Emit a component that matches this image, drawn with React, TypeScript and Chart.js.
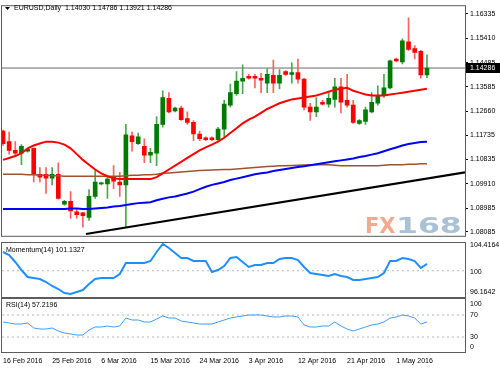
import React, { useEffect, useRef } from 'react';
import { Chart, registerables } from 'chart.js';

Chart.register(...registerables);

const FONT = '"Liberation Sans", Arial, sans-serif';

// ---- data ----
const dateLabels = ['16 Feb 2016', '25 Feb 2016', '6 Mar 2016', '15 Mar 2016', '24 Mar 2016', '3 Apr 2016', '12 Apr 2016', '21 Apr 2016', '1 May 2016'];
const dateTickIndex = [0, 8, 16, 24, 32, 40, 48, 56, 64];

const openPrices = [
  1.11901, 1.11501, 1.11174, 1.11065, 1.11138, 1.11247, 1.10266, 1.10266, 1.10120, 1.10266,
  1.09139, 1.09248, 1.08849, 1.08812, 1.08631, 1.09430, 1.09902, 1.09902, 1.10157, 1.09975,
  1.09866, 1.11719, 1.11429, 1.11320, 1.10993, 1.11065, 1.12156, 1.13137, 1.12664, 1.12773,
  1.12374, 1.12228, 1.11792, 1.11647, 1.11647, 1.11574, 1.11974, 1.12882, 1.13318, 1.13791,
  1.13973, 1.13973, 1.13900, 1.13718, 1.14009, 1.13718, 1.14154, 1.14045, 1.14118, 1.13864,
  1.12810, 1.12628, 1.12991, 1.12919, 1.13100, 1.13573, 1.13064, 1.12882, 1.12192, 1.12265,
  1.12628, 1.12955, 1.13246, 1.13536, 1.14627, 1.14518, 1.15281, 1.15026, 1.14917, 1.14030,
];
const highPrices = [
  1.11938, 1.11865, 1.11501, 1.11392, 1.11247, 1.11260, 1.10520, 1.10520, 1.10520, 1.10702,
  1.09285, 1.09612, 1.08958, 1.08830, 1.09684, 1.10411, 1.09975, 1.10157, 1.10593, 1.10338,
  1.12156, 1.11865, 1.11828, 1.11610, 1.11247, 1.12446, 1.13427, 1.13355, 1.12810, 1.12846,
  1.12628, 1.12301, 1.11901, 1.11683, 1.11683, 1.12047, 1.13064, 1.13682, 1.14154, 1.14409,
  1.14045, 1.14045, 1.14082, 1.14263, 1.14590, 1.14227, 1.14191, 1.14481, 1.14627, 1.13900,
  1.12955, 1.13173, 1.13064, 1.13355, 1.13900, 1.13900, 1.14045, 1.13064, 1.12337, 1.12810,
  1.13355, 1.13609, 1.14045, 1.14590, 1.14663, 1.15390, 1.16189, 1.15135, 1.14954, 1.14786,
];
const lowPrices = [
  1.11356, 1.11029, 1.10993, 1.10629, 1.11102, 1.09975, 1.09975, 1.09539, 1.09866, 1.09321,
  1.09103, 1.08594, 1.08594, 1.08267, 1.08522, 1.09357, 1.09866, 1.09357, 1.09721, 1.09430,
  1.08267, 1.11138, 1.11392, 1.10702, 1.10702, 1.10593, 1.12047, 1.12592, 1.12628, 1.12301,
  1.12156, 1.11538, 1.11538, 1.11538, 1.11538, 1.11538, 1.11683, 1.12810, 1.13246, 1.13318,
  1.13864, 1.13536, 1.13355, 1.13355, 1.13355, 1.13500, 1.14009, 1.13718, 1.13718, 1.12701,
  1.12301, 1.12446, 1.12882, 1.12810, 1.12810, 1.12592, 1.12810, 1.12192, 1.12156, 1.12156,
  1.12592, 1.12882, 1.13173, 1.13500, 1.14518, 1.14445, 1.14954, 1.14627, 1.13900, 1.13921,
];
const closePrices = [
  1.11429, 1.11174, 1.11065, 1.11320, 1.11211, 1.10266, 1.10157, 1.10120, 1.10266, 1.09357,
  1.09248, 1.08885, 1.08740, 1.08703, 1.09430, 1.09975, 1.09939, 1.10084, 1.10011, 1.09866,
  1.11756, 1.11501, 1.11683, 1.10993, 1.11102, 1.12156, 1.13173, 1.12628, 1.12773, 1.12337,
  1.12228, 1.11792, 1.11610, 1.11574, 1.11574, 1.11974, 1.12919, 1.13355, 1.13791, 1.13900,
  1.13900, 1.13900, 1.13827, 1.14045, 1.13718, 1.14009, 1.14045, 1.14118, 1.13864, 1.12810,
  1.12628, 1.12810, 1.12919, 1.13137, 1.13573, 1.12991, 1.12882, 1.12228, 1.12301, 1.12701,
  1.12991, 1.13246, 1.13536, 1.14554, 1.14554, 1.15317, 1.14990, 1.14881, 1.14030, 1.14286,
];

const maRed = [
  1.10811, 1.10884, 1.10956, 1.11065, 1.11247, 1.11356, 1.11429, 1.11501, 1.11501, 1.11465,
  1.11392, 1.11247, 1.11029, 1.10811, 1.10629, 1.10448, 1.10302, 1.10193, 1.10120, 1.10084,
  1.10084, 1.10084, 1.10084, 1.10084, 1.10084, 1.10157, 1.10302, 1.10448, 1.10593, 1.10738,
  1.10884, 1.11029, 1.11174, 1.11283, 1.11392, 1.11501, 1.11647, 1.11828, 1.12010, 1.12192,
  1.12337, 1.12446, 1.12592, 1.12737, 1.12846, 1.12955, 1.13028, 1.13100, 1.13137, 1.13173,
  1.13209, 1.13246, 1.13318, 1.13391, 1.13464, 1.13500, 1.13536, 1.13427, 1.13355, 1.13282,
  1.13246, 1.13246, 1.13246, 1.13282, 1.13318, 1.13355, 1.13391, 1.13427, 1.13464, 1.13500,
];
const maBlue = [
  1.08958, 1.08958, 1.08958, 1.08958, 1.08958, 1.08958, 1.08958, 1.08958, 1.08958, 1.08958,
  1.08958, 1.08976, 1.08976, 1.08958, 1.08958, 1.08976, 1.08994, 1.09012, 1.09049, 1.09067,
  1.09103, 1.09139, 1.09176, 1.09194, 1.09212, 1.09285, 1.09340, 1.09394, 1.09430, 1.09485,
  1.09539, 1.09612, 1.09703, 1.09794, 1.09866, 1.09921, 1.09975, 1.10048, 1.10102, 1.10157,
  1.10211, 1.10266, 1.10302, 1.10338, 1.10393, 1.10429, 1.10466, 1.10502, 1.10539, 1.10575,
  1.10611, 1.10648, 1.10684, 1.10720, 1.10757, 1.10793, 1.10829, 1.10866, 1.10920, 1.10956,
  1.11011, 1.11065, 1.11138, 1.11211, 1.11283, 1.11356, 1.11411, 1.11447, 1.11484, 1.11501,
];
const maBrown = [
  1.10266, 1.10266, 1.10266, 1.10266, 1.10248, 1.10248, 1.10230, 1.10230, 1.10211, 1.10211,
  1.10193, 1.10193, 1.10193, 1.10193, 1.10193, 1.10193, 1.10193, 1.10193, 1.10193, 1.10193,
  1.10211, 1.10230, 1.10230, 1.10248, 1.10248, 1.10266, 1.10302, 1.10320, 1.10338, 1.10357,
  1.10375, 1.10393, 1.10411, 1.10422, 1.10429, 1.10437, 1.10448, 1.10448, 1.10466, 1.10484,
  1.10502, 1.10520, 1.10539, 1.10557, 1.10575, 1.10593, 1.10593, 1.10600, 1.10611, 1.10618,
  1.10629, 1.10629, 1.10629, 1.10629, 1.10611, 1.10593, 1.10593, 1.10593, 1.10593, 1.10593,
  1.10593, 1.10593, 1.10611, 1.10629, 1.10629, 1.10629, 1.10648, 1.10648, 1.10666, 1.10666,
];
const trendLine = [
  { x: 13.5, y: 1.0801 },
  { x: 75.2, y: 1.1034 },
];

const momentum = [
  103.096, 102.601, 101.446, 100.125, 98.970, 98.805, 98.640, 98.145, 97.485, 96.990,
  96.330, 96.1642, 96.495, 96.825, 97.815, 98.640, 98.805, 98.805, 98.805, 99.465,
  101.281, 101.281, 101.281, 101.281, 101.611, 103.096, 104.4164, 103.756, 102.931, 102.106,
  102.106, 101.611, 101.611, 101.611, 99.795, 100.125, 100.786, 102.106, 102.271, 101.446,
  100.621, 100.951, 100.951, 101.281, 101.281, 101.941, 102.106, 102.106, 101.776, 100.621,
  99.630, 99.465, 99.300, 99.135, 99.465, 99.135, 98.970, 98.475, 98.475, 98.640,
  98.805, 98.970, 99.630, 101.611, 101.611, 102.106, 101.941, 101.611, 100.456, 101.1327,
];
const rsi = [
  57.3, 55.5, 53.6, 53.6, 55.5, 46.4, 44.5, 44.5, 46.4, 40.9,
  37.3, 35.5, 33.6, 33.6, 42.7, 48.2, 48.2, 50.0, 48.2, 50.0,
  64.5, 60.9, 60.9, 57.3, 57.3, 62.7, 68.2, 64.5, 64.5, 59.1,
  57.3, 55.5, 53.6, 53.6, 53.6, 57.3, 60.9, 64.5, 66.4, 68.2,
  70.0, 70.0, 70.0, 68.2, 66.4, 66.4, 68.2, 68.2, 66.4, 51.8,
  48.2, 48.2, 50.0, 50.0, 57.3, 50.0, 44.5, 40.9, 44.5, 48.2,
  51.8, 53.6, 57.3, 64.5, 66.4, 70.0, 68.2, 64.5, 53.6, 57.2196,
];

const priceTicks = [1.16335, 1.1541, 1.14485, 1.13585, 1.1266, 1.11735, 1.10835, 1.0991, 1.08985, 1.08085];
const momentumLevel = 100;
const rsiLevels = [70, 30];
const rsiBounds = [100, 0];

// ---- layout constants ----
const X_MIN = -0.163;
const X_MAX = 75.19;
const AXIS_W = 35;

const framePlugin = {
  id: 'frame',
  afterDraw(chart: any) {
    const { ctx, chartArea: a } = chart;
    ctx.save();
    ctx.strokeStyle = '#5c5c5c';
    ctx.lineWidth = 1;
    ctx.strokeRect(a.left - 0.5, a.top - 0.5, a.right - a.left + 1, a.bottom - a.top + 1);
    ctx.restore();
  },
};

const baseOptions = {
  responsive: false,
  animation: false,
  devicePixelRatio: 1,
  events: [],
  plugins: { legend: { display: false }, tooltip: { enabled: false } },
};

export default function App() {
  const mainRef = useRef<HTMLCanvasElement>(null);
  const momRef = useRef<HTMLCanvasElement>(null);
  const rsiRef = useRef<HTMLCanvasElement>(null);

  useEffect(() => {
    const idx = openPrices.map((_, i) => i);
    const bull = idx.map((i) => closePrices[i] >= openPrices[i]);
    const last = closePrices[closePrices.length - 1];
    const lineDs = (arr: number[], color: string, width: number, order: number) => ({
      type: 'line',
      data: idx.map((i) => ({ x: i, y: arr[i] })),
      borderColor: color,
      borderWidth: width,
      pointRadius: 0,
      tension: 0,
      order,
    });

    const mainDecor = {
      id: 'mainDecor',
      beforeDatasetsDraw(chart: any) {
        const ctx = chart.ctx;
        ctx.save();
        ctx.font = 'bold 21px "DejaVu Sans"';
        ctx.textBaseline = 'alphabetic';
        ctx.textAlign = 'left';
        ctx.fillStyle = '#f4a98c';
        ctx.fillText('FX', 365, 233);
        ctx.fillStyle = '#a9c2d4';
        ctx.translate(396, 233);
        ctx.scale(1.5, 1);
        ctx.fillText('168', 0, 0);
        ctx.restore();
      },
      afterDraw(chart: any) {
        const ctx = chart.ctx;
        ctx.save();
        ctx.fillStyle = '#000';
        ctx.beginPath();
        ctx.moveTo(5, 7);
        ctx.lineTo(10, 7);
        ctx.lineTo(7.5, 10);
        ctx.closePath();
        ctx.fill();
        ctx.font = `7px ${FONT}`;
        ctx.textBaseline = 'middle';
        ctx.textAlign = 'left';
        const n = openPrices.length - 1;
        ctx.fillText(
          `EURUSD,Daily  ${openPrices[n].toFixed(5)} ${highPrices[n].toFixed(5)} ${lowPrices[n].toFixed(5)} ${closePrices[n].toFixed(5)}`,
          14,
          8.5
        );
        const y = chart.scales.y.getPixelForValue(last);
        ctx.fillStyle = '#000';
        ctx.fillRect(466, Math.round(y) - 5, 34, 10);
        ctx.fillStyle = '#fff';
        ctx.fillText(last.toFixed(5), 470, Math.round(y) + 0.5);
        ctx.restore();
      },
    };

    const main = new Chart(mainRef.current as HTMLCanvasElement, {
      type: 'bar',
      data: {
        datasets: [
          {
            type: 'line',
            data: [{ x: X_MIN, y: last }, { x: X_MAX, y: last }],
            borderColor: '#6a6a6a',
            borderWidth: 1,
            pointRadius: 0,
            order: 10,
          },
          {
            type: 'bar',
            data: idx.map((i) => ({ x: i, y: [lowPrices[i], highPrices[i]] })),
            backgroundColor: idx.map((i) => (bull[i] ? '#4ea64e' : '#ff6060')),
            barThickness: 1,
            grouped: false,
            order: 9,
          },
          {
            type: 'bar',
            data: idx.map((i) => ({ x: i, y: [openPrices[i], closePrices[i]] })),
            backgroundColor: idx.map((i) => (bull[i] ? '#007a00' : '#ff0000')),
            barThickness: 4,
            grouped: false,
            order: 8,
          },
          lineDs(maBrown, '#a0522d', 1.5, 7),
          lineDs(maBlue, '#0000ff', 2, 6),
          lineDs(maRed, '#ff0000', 2, 5),
          {
            type: 'line',
            data: trendLine,
            borderColor: '#000000',
            borderWidth: 2,
            pointRadius: 0,
            order: 4,
          },
        ],
      } as any,
      options: {
        ...baseOptions,
        layout: { padding: { left: 2, top: 2, bottom: 1, right: 0 } },
        scales: {
          x: { type: 'linear', min: X_MIN, max: X_MAX, display: false, offset: false },
          y: {
            type: 'linear',
            position: 'right',
            min: 1.0794,
            max: 1.16625,
            grid: { display: true, drawOnChartArea: false, drawTicks: true, tickLength: 3, color: '#000' },
            border: { display: false },
            ticks: {
              padding: 2,
              autoSkip: false,
              color: '#000',
              font: { size: 7, family: FONT },
              callback: (v: any) => Number(v).toFixed(5),
            },
            afterBuildTicks: (s: any) => {
              s.ticks = priceTicks.map((v) => ({ value: v }));
            },
            afterFit: (s: any) => {
              s.width = AXIS_W;
            },
          },
        },
      } as any,
      plugins: [framePlugin, mainDecor],
    });

    const momMax = Math.max(...momentum);
    const momMin = Math.min(...momentum);
    const momDecor = {
      id: 'momDecor',
      afterDraw(chart: any) {
        const ctx = chart.ctx;
        const a = chart.chartArea;
        const ys = chart.scales.y;
        ctx.save();
        ctx.fillStyle = '#000';
        ctx.font = `7px ${FONT}`;
        ctx.textBaseline = 'middle';
        ctx.textAlign = 'left';
        ctx.fillText(`Momentum(14) ${momentum[momentum.length - 1].toFixed(4)}`, 6, 8);
        ctx.fillText(momMax.toFixed(4), 470, a.top + 2.5);
        ctx.fillText(String(momentumLevel), 470, ys.getPixelForValue(momentumLevel) + 1);
        ctx.fillText(momMin.toFixed(4), 470, a.bottom - 5);
        ctx.restore();
      },
    };

    const mom = new Chart(momRef.current as HTMLCanvasElement, {
      type: 'line',
      data: {
        datasets: [
          {
            data: idx.map((i) => ({ x: i, y: momentum[i] })),
            borderColor: '#1e90ff',
            borderWidth: 2,
            pointRadius: 0,
            tension: 0,
            order: 1,
          },
          {
            data: [{ x: X_MIN, y: momentumLevel }, { x: X_MAX, y: momentumLevel }],
            borderColor: '#b8b8b8',
            borderWidth: 1,
            borderDash: [2, 3],
            pointRadius: 0,
            order: 2,
          },
        ],
      } as any,
      options: {
        ...baseOptions,
        layout: { padding: { left: 2, top: 1, bottom: 1, right: 0 } },
        scales: {
          x: { type: 'linear', min: X_MIN, max: X_MAX, display: false, offset: false },
          y: {
            type: 'linear',
            position: 'right',
            min: 95.6693,
            max: 104.5814,
            grid: { display: false },
            border: { display: false },
            ticks: { display: false },
            afterFit: (s: any) => {
              s.width = AXIS_W;
            },
          },
        },
      } as any,
      plugins: [framePlugin, momDecor],
    });

    const rsiDecor = {
      id: 'rsiDecor',
      afterDraw(chart: any) {
        const ctx = chart.ctx;
        const a = chart.chartArea;
        const ys = chart.scales.y;
        ctx.save();
        ctx.fillStyle = '#000';
        ctx.font = `7px ${FONT}`;
        ctx.textBaseline = 'middle';
        ctx.textAlign = 'left';
        ctx.fillText(`RSI(14) ${rsi[rsi.length - 1].toFixed(4)}`, 6, 7.5);
        ctx.fillText(String(rsiBounds[0]), 470, a.top + 5);
        rsiLevels.forEach((v) => ctx.fillText(String(v), 470, ys.getPixelForValue(v)));
        ctx.fillText(String(rsiBounds[1]), 470, a.bottom - 5);
        ctx.restore();
      },
    };

    const rs = new Chart(rsiRef.current as HTMLCanvasElement, {
      type: 'line',
      data: {
        datasets: [
          {
            data: idx.map((i) => ({ x: i, y: rsi[i] })),
            borderColor: '#3d9dff',
            borderWidth: 1,
            pointRadius: 0,
            tension: 0,
            order: 1,
          },
          ...rsiLevels.map((lv) => ({
            data: [{ x: X_MIN, y: lv }, { x: X_MAX, y: lv }],
            borderColor: '#b8b8b8',
            borderWidth: 1,
            borderDash: [2, 3],
            pointRadius: 0,
            order: 2,
          })),
        ],
      } as any,
      options: {
        ...baseOptions,
        layout: { padding: { left: 2, top: 1, bottom: 0, right: 0 } },
        scales: {
          x: {
            type: 'linear',
            min: X_MIN,
            max: X_MAX,
            position: 'bottom',
            offset: false,
            grid: { display: true, drawOnChartArea: false, drawTicks: true, tickLength: 5, color: 'rgba(0,0,0,0)' },
            border: { display: false },
            ticks: {
              align: 'start',
              padding: 0,
              autoSkip: false,
              maxRotation: 0,
              minRotation: 0,
              color: '#000',
              font: { size: 7, family: FONT },
              callback: (_v: any, i: number) => dateLabels[i],
            },
            afterBuildTicks: (s: any) => {
              s.ticks = dateTickIndex.map((v) => ({ value: v }));
            },
            afterFit: (s: any) => {
              s.height = 17;
            },
          },
          y: {
            type: 'linear',
            position: 'right',
            min: 2.73,
            max: 99.09,
            grid: { display: false },
            border: { display: false },
            ticks: { display: false },
            afterFit: (s: any) => {
              s.width = AXIS_W;
            },
          },
        },
      } as any,
      plugins: [framePlugin, rsiDecor],
    });

    return () => {
      main.destroy();
      mom.destroy();
      rs.destroy();
    };
  }, []);

  return (
    <div style={{ position: 'absolute', left: 0, top: 0, width: 500, height: 369, background: '#fff', overflow: 'hidden' }}>
      <canvas ref={mainRef} width={500} height={242} style={{ position: 'absolute', left: 0, top: 0 }} />
      <canvas ref={momRef} width={500} height={56} style={{ position: 'absolute', left: 0, top: 242 }} />
      <canvas ref={rsiRef} width={500} height={71} style={{ position: 'absolute', left: 0, top: 298 }} />
    </div>
  );
}
